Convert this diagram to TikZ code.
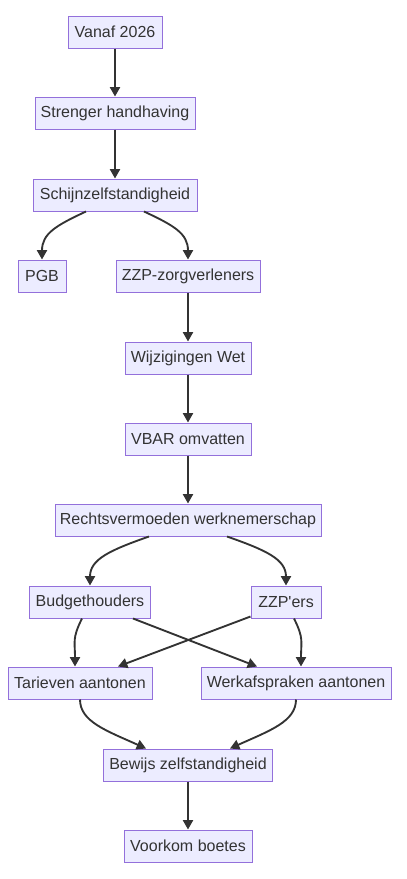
\documentclass[tikz,border=0pt]{standalone}
\usepackage{fontspec}
\setmainfont{Liberation Sans}
\usetikzlibrary{shapes,calc,positioning,arrows.meta}

\definecolor{boxfill}{HTML}{ECECFF}
\definecolor{boxline}{HTML}{9370DB}
\definecolor{inkgray}{HTML}{333333}

\begin{document}
\begin{tikzpicture}[x=0.75pt, y=-0.75pt,
        boxw/.style={minimum width=#1*0.75pt}]
      \tikzstyle{box} = [draw=boxline, fill=boxfill, line width=0.75pt, text=inkgray,
        font=\fontsize{12}{14}\selectfont, minimum height=24pt, inner xsep=2pt]
      \tikzstyle{edge} = [draw=inkgray, line width=1.4pt, -{Triangle[length=7pt,width=7.5pt]}]
      \useasboundingbox (0,0) rectangle (407,879);
      \node (vanaf) [box, boxw=94] at (115,32) {Vanaf 2026};
      \node (strenger) [box, boxw=160] at (115,113) {Strenger handhaving};
      \node (schijn) [box, boxw=164] at (115,195) {Schijnzelfstandigheid};
      \node (pgb) [box, boxw=48] at (42,276) {PGB};
      \node (zzpzorg) [box, boxw=144] at (188,276) {ZZP-zorgverleners};
      \node (wijz) [box, boxw=126] at (188,358) {Wijzigingen Wet};
      \node (vbar) [box, boxw=126] at (188,439) {VBAR omvatten};
      \node (rechts) [box, boxw=266] at (188,520) {Rechtsvermoeden werknemerschap};
      \node (budget) [box, boxw=121] at (90,602) {Budgethouders};
      \node (zzpers) [box, boxw=70] at (286,602) {ZZP\textquotesingle ers};
      \node (tarieven) [box, boxw=144] at (80,683) {Tarieven aantonen};
      \node (werk) [box, boxw=190] at (296,683) {Werkafspraken aantonen};
      \node (bewijs) [box, boxw=169] at (188,765) {Bewijs zelfstandigheid};
      \node (voorkom) [box, boxw=128] at (188,846) {Voorkom boetes};
      % straight arrows
      \draw[edge] (vanaf) -- (strenger);
      \draw[edge] (strenger) -- (schijn);
      \draw[edge] (zzpzorg) -- (wijz);
      \draw[edge] (wijz) -- (vbar);
      \draw[edge] (vbar) -- (rechts);
      \draw[edge] (bewijs) -- (voorkom);
      % splits
      \draw[edge] ($(schijn.south)+(-29,0)$) .. controls +(-30,14) and +(0,-26) .. (pgb.north);
      \draw[edge] ($(schijn.south)+(29,0)$) .. controls +(30,14) and +(0,-26) .. (zzpzorg.north);
      \draw[edge] ($(rechts.south)+(-39,0)$) .. controls +(-40,14) and +(0,-26) .. (budget.north);
      \draw[edge] ($(rechts.south)+(39,0)$) .. controls +(40,14) and +(0,-26) .. (zzpers.north);
      % crossing
      \draw[edge] ($(budget.south)+(-8,0)$) .. controls +(-10,20) and +(0,-25) .. ($(tarieven.north)+(-5,0)$);
      \draw[edge] ($(zzpers.south)+(8,0)$) .. controls +(10,20) and +(0,-25) .. ($(werk.north)+(5,0)$);
      \draw[edge] ($(budget.south)+(43,0)$) -- ($(werk.north)+(-39,0)$);
      \draw[edge] ($(zzpers.south west)+(0,-2)$) -- ($(tarieven.north)+(38,0)$);
      % merge
      \draw[edge] (tarieven.south) .. controls +(0,22) and +(-40,-18) .. ($(bewijs.north)+(-42,0)$);
      \draw[edge] (werk.south) .. controls +(0,22) and +(40,-18) .. ($(bewijs.north)+(42,0)$);
    \end{tikzpicture}
\end{document}
